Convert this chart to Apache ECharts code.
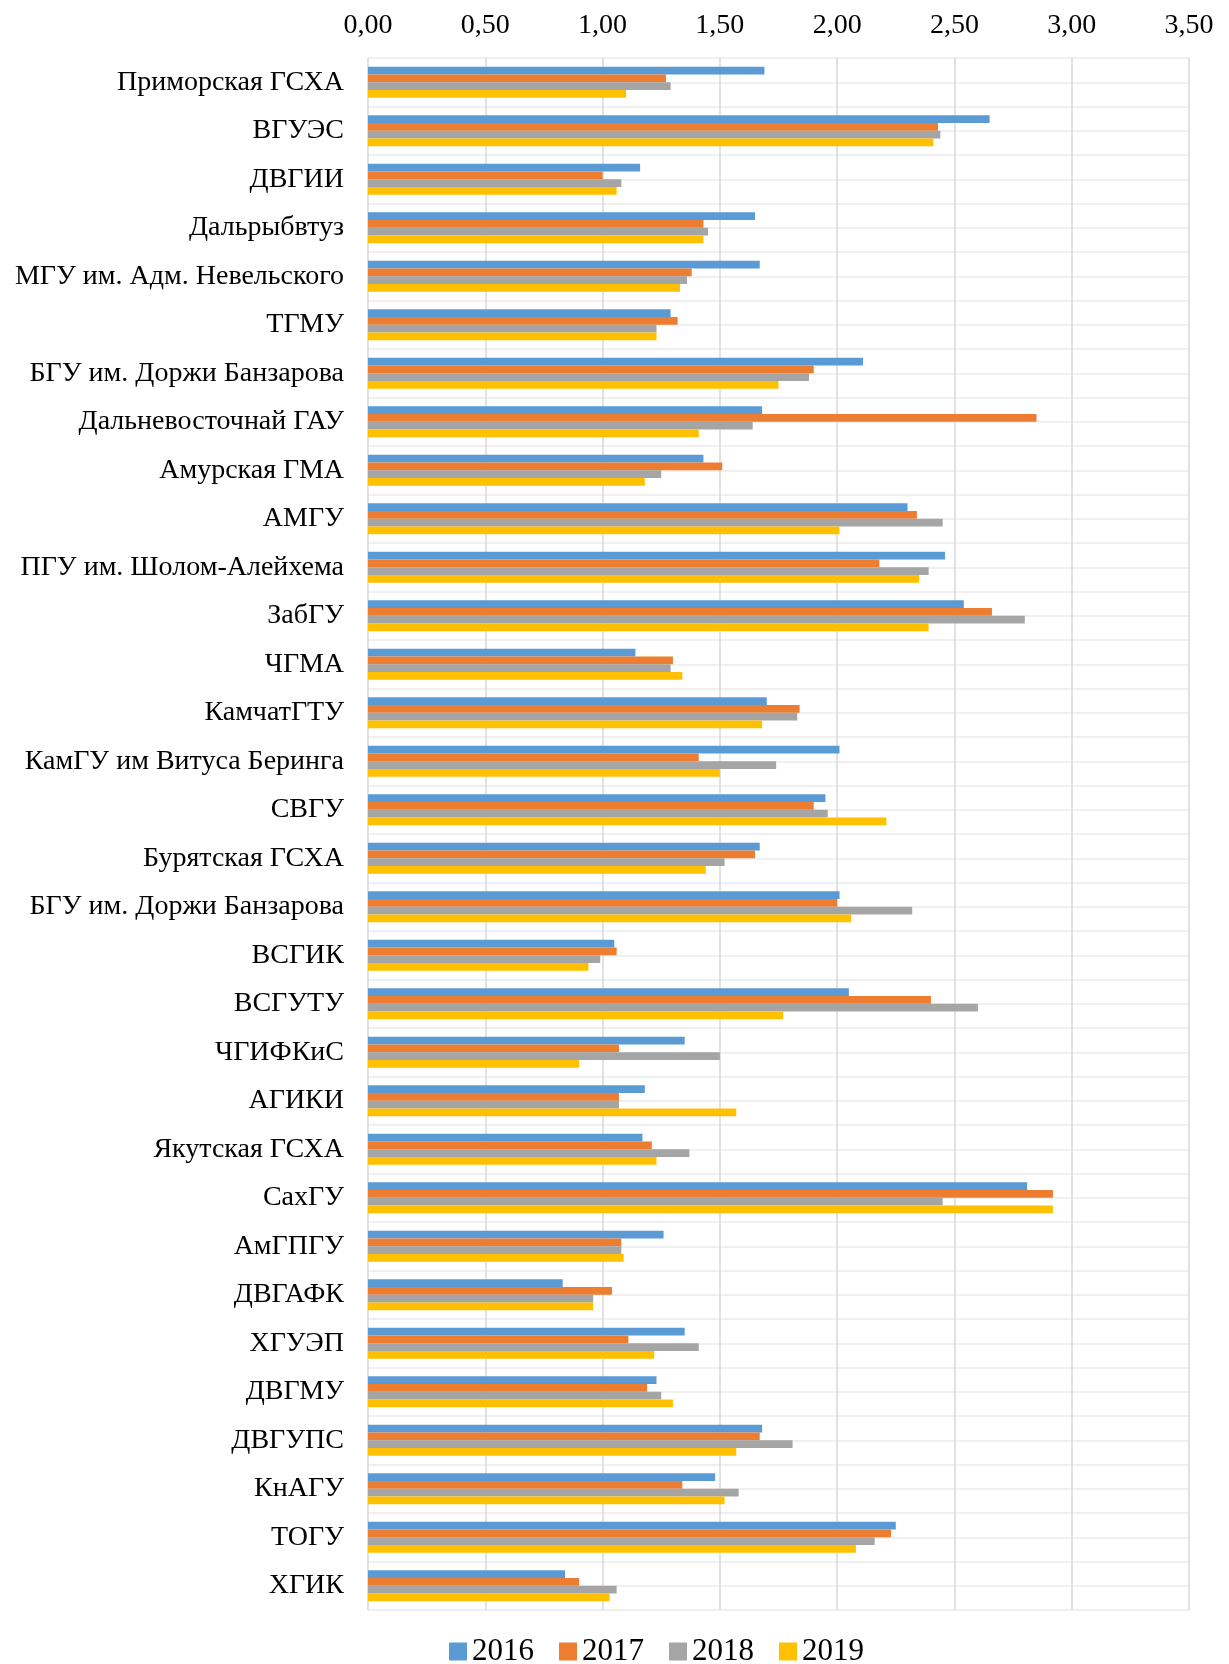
<!DOCTYPE html>
<html>
<head>
<meta charset="utf-8">
<script src="https://cdn.jsdelivr.net/npm/echarts@6/dist/echarts.min.js"></script>
<style>
  html, body { margin: 0; padding: 0; background: #fff; }
  #chart { width: 1229px; height: 1664px; }
</style>
</head>
<body>
<div id="chart"></div>
<script>
// universities (top to bottom)
const universities = [
    'Приморская ГСХА', 'ВГУЭС', 'ДВГИИ', 'Дальрыбвтуз', 'МГУ им. Адм. Невельского',
    'ТГМУ', 'БГУ им. Доржи Банзарова', 'Дальневосточнай ГАУ', 'Амурская ГМА', 'АМГУ',
    'ПГУ им. Шолом-Алейхема', 'ЗабГУ', 'ЧГМА', 'КамчатГТУ', 'КамГУ им Витуса Беринга',
    'СВГУ', 'Бурятская ГСХА', 'БГУ им. Доржи Банзарова', 'ВСГИК', 'ВСГУТУ',
    'ЧГИФКиС', 'АГИКИ', 'Якутская ГСХА', 'СахГУ', 'АмГПГУ',
    'ДВГАФК', 'ХГУЭП', 'ДВГМУ', 'ДВГУПС', 'КнАГУ',
    'ТОГУ', 'ХГИК'
];

const years = ['2016', '2017', '2018', '2019'];

const values2016 = [1.69, 2.65, 1.16, 1.65, 1.67, 1.29, 2.11, 1.68, 1.43, 2.30,
    2.46, 2.54, 1.14, 1.70, 2.01, 1.95, 1.67, 2.01, 1.05, 2.05,
    1.35, 1.18, 1.17, 2.81, 1.26, 0.83, 1.35, 1.23, 1.68, 1.48,
    2.25, 0.84];
const values2017 = [1.27, 2.43, 1.00, 1.43, 1.38, 1.32, 1.90, 2.85, 1.51, 2.34,
    2.18, 2.66, 1.30, 1.84, 1.41, 1.90, 1.65, 2.00, 1.06, 2.40,
    1.07, 1.07, 1.21, 2.92, 1.08, 1.04, 1.11, 1.19, 1.67, 1.34,
    2.23, 0.90];
const values2018 = [1.29, 2.44, 1.08, 1.45, 1.36, 1.23, 1.88, 1.64, 1.25, 2.45,
    2.39, 2.80, 1.29, 1.83, 1.74, 1.96, 1.52, 2.32, 0.99, 2.60,
    1.50, 1.07, 1.37, 2.45, 1.08, 0.96, 1.41, 1.25, 1.81, 1.58,
    2.16, 1.06];
const values2019 = [1.10, 2.41, 1.06, 1.43, 1.33, 1.23, 1.75, 1.41, 1.18, 2.01,
    2.35, 2.39, 1.34, 1.68, 1.50, 2.21, 1.44, 2.06, 0.94, 1.77,
    0.90, 1.57, 1.23, 2.92, 1.09, 0.96, 1.22, 1.30, 1.57, 1.52,
    2.08, 1.03];

const seriesValues = [values2016, values2017, values2018, values2019];
const colors = ['#5B9BD5', '#ED7D31', '#A5A5A5', '#FFC000'];

const FONT = '"Liberation Serif", "Times New Roman", serif';

// helper categories for the faint half-row lines
let halfRows = [];
universities.forEach(function (u, i) { halfRows.push('a' + i, 'b' + i); });

let chart = echarts.init(document.getElementById('chart'), null, {renderer: 'canvas'});

let option = {
    animation: false,
    backgroundColor: '#fff',
    color: colors,
    grid: {left: 368, right: 40, top: 58, bottom: 54},
    legend: {
        data: years,
        left: 444,
        top: 1631,
        itemWidth: 18,
        itemHeight: 18,
        itemGap: 25,
        icon: 'rect',
        textStyle: {fontFamily: FONT, fontSize: 31, color: '#000'}
    },
    xAxis: {
        type: 'value',
        position: 'top',
        min: 0,
        max: 3.5,
        interval: 0.5,
        axisLine: {show: false},
        axisTick: {show: false},
        axisLabel: {
            fontFamily: FONT,
            fontSize: 28,
            color: '#000',
            margin: 18,
            formatter: function (v) { return v.toFixed(2).replace('.', ','); }
        },
        splitLine: {lineStyle: {color: '#d9d9d9', width: 1.5}}
    },
    yAxis: [{
        type: 'category',
        data: universities,
        inverse: true,
        axisLine: {show: false},
        axisTick: {show: false},
        axisLabel: {fontFamily: FONT, fontSize: 28, color: '#000', margin: 24},
        splitLine: {show: true, lineStyle: {color: '#f0f0f0', width: 2}}
    }, {
        type: 'category',
        data: halfRows,
        inverse: true,
        position: 'left',
        axisLine: {show: false},
        axisTick: {show: false},
        axisLabel: {show: false},
        splitLine: {show: true, lineStyle: {color: '#f0f0f0', width: 2}}
    }],
    series: years.map(function (y, i) {
        return {
            name: y,
            type: 'bar',
            yAxisIndex: 0,
            data: seriesValues[i],
            barGap: '0%',
            barCategoryGap: '36%',
            z: 3
        };
    })
};

chart.setOption(option);
</script>
</body>
</html>
